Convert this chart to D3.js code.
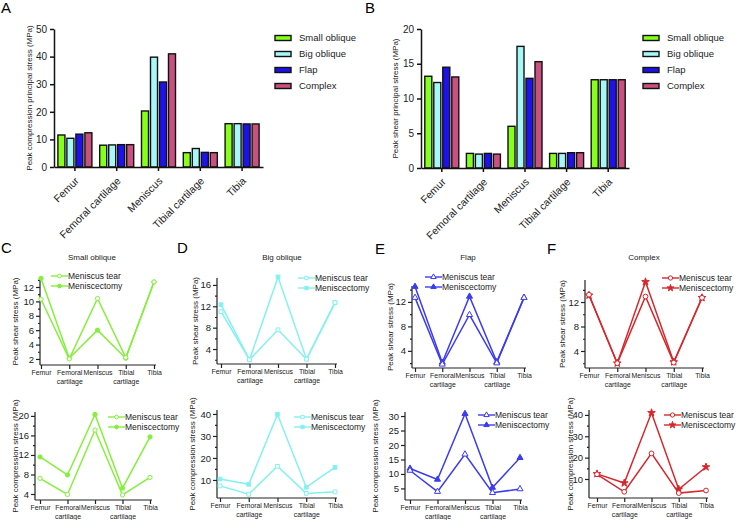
<!DOCTYPE html>
<html>
<head>
<meta charset="utf-8">
<script src="https://cdn.jsdelivr.net/npm/d3@7"></script>
<style>
  body { margin: 0; background: #fff; }
  svg { font-family: "Liberation Sans", Arial, sans-serif; }
</style>
</head>
<body>
<svg id="fig" width="738" height="520"></svg>
<script>
// categories
var organs = ["Femur", "Femoral cartilage", "Meniscus", "Tibial cartilage", "Tibia"];
var organLines = [["Femur"], ["Femoral", "cartilage"], ["Meniscus"], ["Tibial", "cartilage"], ["Tibia"]];
var tearTypes = ["Small oblique", "Big oblique", "Flap", "Complex"];
var barColors = ["#86ff1a", "#a6f7f7", "#1d12ec", "#c9517f"];

// A: peak compression principal stress (MPa)
var smallComp = [11.6, 7.9, 20.3, 5.2, 15.7];
var bigComp = [10.4, 8.0, 39.8, 6.7, 15.7];
var flapComp = [11.9, 8.1, 30.8, 5.3, 15.6];
var complexComp = [12.4, 8.1, 41.0, 5.2, 15.6];

// B: peak shear principal stress (MPa)
var smallShear = [13.2, 2.1, 6.0, 2.1, 12.7];
var bigShear = [12.3, 2.0, 17.5, 2.1, 12.7];
var flapShear = [14.5, 2.1, 12.9, 2.2, 12.7];
var complexShear = [13.1, 2.0, 15.3, 2.2, 12.7];

// C-F: meniscus tear series (meniscectomy series are the bar values above)
var smallTearShear = [10.3, 2.0, 10.4, 2.2, 12.7];
var smallTearComp = [7.2, 3.9, 17.1, 3.8, 7.4];
var bigTearShear = [11.0, 2.0, 7.6, 2.1, 12.7];
var bigTearComp = [7.3, 3.5, 16.2, 3.9, 4.6];
var flapTearShear = [12.7, 1.8, 9.9, 2.0, 12.7];
var flapTearComp = [11.2, 3.9, 16.8, 3.5, 4.8];
var complexTearShear = [13.2, 2.0, 12.9, 2.1, 12.7];
var complexTearComp = [12.2, 4.0, 22.0, 3.4, 4.6];

var svg = d3.select('#fig');

function letter(t, x, y) {
  svg.append('text').attr('x', x).attr('y', y)
    .style('font-size', '15px').text(t);
}

function drawBars(o) {
  var g = svg.append('g');
  var x = d3.scaleBand().domain(organs).range([o.left, o.right]);
  var xs = d3.scaleBand().domain(tearTypes).range([-17, 17]).paddingInner(0.22);
  var y = d3.scaleLinear().domain([0, o.max]).range([o.bottom, o.top]);

  o.series.forEach(function (vals, s) {
    g.selectAll(null).data(vals).enter().append('rect')
      .attr('x', function (d, i) { return x(organs[i]) + x.bandwidth() / 2 + xs(tearTypes[s]); })
      .attr('y', function (d) { return y(d); })
      .attr('width', xs.bandwidth())
      .attr('height', function (d) { return o.bottom - y(d); })
      .style('fill', barColors[s])
      .style('stroke', '#111')
      .style('stroke-width', 1.4);
  });

  var ya = g.append('g').attr('transform', 'translate(' + o.left + ',0)')
    .call(d3.axisLeft(y).tickValues(o.ticks).tickSize(4).tickSizeOuter(0));
  ya.selectAll('text').style('font-size', '10px').attr('fill', '#222');
  var xa = g.append('g').attr('transform', 'translate(0,' + o.bottom + ')')
    .call(d3.axisBottom(x).tickSize(4).tickSizeOuter(0));
  xa.selectAll('text')
    .attr('text-anchor', 'end')
    .attr('dy', '0.35em').attr('y', 0).attr('x', 0)
    .attr('transform', 'translate(2,12) rotate(-45)')
    .style('font-size', '10.5px').attr('fill', '#222');
  g.selectAll('.domain, .tick line').style('stroke', '#111').style('stroke-width', 1.5);

  g.append('text')
    .attr('transform', 'translate(' + o.labelX + ',' + (o.top + o.bottom) / 2 + ') rotate(-90)')
    .attr('text-anchor', 'middle').attr('dy', '0.35em')
    .style('font-size', '8px').attr('fill', '#222')
    .text(o.label);

  tearTypes.forEach(function (t, i) {
    var ly = 38 + i * 16;
    g.append('rect').attr('x', o.legX).attr('y', ly - 2.5).attr('width', 16).attr('height', 5)
      .style('fill', barColors[i]).style('stroke', '#111').style('stroke-width', 1.4);
    g.append('text').attr('x', o.legX + 24).attr('y', ly).attr('dy', '0.35em')
      .style('font-size', '9.5px').attr('fill', '#222').text(t);
  });
}

function marker(sel, type, size, color, filled) {
  sel.attr('d', d3.symbol().type(type).size(size))
    .style('fill', filled ? color : '#fff')
    .style('stroke', color)
    .style('stroke-width', 1);
}

function drawLines(o) {
  var g = svg.append('g');
  var x = d3.scalePoint().domain(organs).range([o.x0, o.x1]);
  var y = d3.scaleLinear().domain(o.domain).range([o.bottom, o.top]);

  // axes
  var ya = g.append('g').attr('transform', 'translate(' + o.axisX + ',0)')
    .call(d3.axisLeft(y).tickValues(o.ticks).tickSize(4).tickSizeOuter(0));
  ya.select('.domain').remove();
  ya.selectAll('text').style('font-size', '9.5px').attr('fill', '#222').attr('x', -6);
  if (o.minor) {
    var ym = g.append('g').attr('transform', 'translate(' + o.axisX + ',0)')
      .call(d3.axisLeft(y).tickValues(o.minor).tickSize(2).tickFormat(''));
    ym.select('.domain').remove();
  }
  g.append('line').attr('x1', o.axisX).attr('x2', o.axisX).attr('y1', o.top).attr('y2', o.bottom);
  g.append('line').attr('x1', o.axisX).attr('x2', o.x1 + 2).attr('y1', o.bottom).attr('y2', o.bottom);

  var xa = g.append('g').attr('transform', 'translate(0,' + o.bottom + ')')
    .call(d3.axisBottom(x).tickSize(4).tickSizeOuter(0).tickFormat(''));
  xa.select('.domain').remove();
  xa.selectAll('.tick').each(function (d, i) {
    var t = d3.select(this).append('text').attr('text-anchor', 'middle').attr('fill', '#222')
      .style('font-size', '6.9px');
    organLines[i].forEach(function (s, k) {
      t.append('tspan').attr('x', 0).attr('y', 10 + k * 8.5).text(s);
    });
  });
  g.selectAll('line, .tick line').style('stroke', '#222').style('stroke-width', 1.2);

  g.append('text')
    .attr('transform', 'translate(' + o.labelX + ',' + (o.top + o.bottom) / 2 + ') rotate(-90)')
    .attr('text-anchor', 'middle').attr('dy', '0.35em')
    .style('font-size', '8px').attr('fill', '#222')
    .text(o.label);

  // series
  var line = d3.line().x(function (d, i) { return x(organs[i]); }).y(function (d) { return y(d); });
  [[o.ectomy, true], [o.tear, false]].forEach(function (s) {
    g.append('path').datum(s[0]).attr('d', line)
      .style('fill', 'none').style('stroke', o.color).style('stroke-width', 1.5);
    g.selectAll(null).data(s[0]).enter().append('path')
      .attr('transform', function (d, i) { return 'translate(' + x(organs[i]) + ',' + y(d) + ')'; })
      .call(marker, s[1] ? o.symbolFilled : o.symbolOpen, o.size, o.color, s[1]);
  });

  // legend
  [['Meniscus tear', false], ['Meniscectomy', true]].forEach(function (l, i) {
    var ly = o.legY + i * 10;
    g.append('line').attr('x1', o.legX).attr('x2', o.legX + 17).attr('y1', ly).attr('y2', ly)
      .style('stroke', o.color).style('stroke-width', 1.4);
    g.append('path').attr('transform', 'translate(' + (o.legX + 8.5) + ',' + ly + ')')
      .call(marker, l[1] ? o.symbolFilled : o.symbolOpen, o.size * 0.8, o.color, l[1]);
    g.append('text').attr('x', o.legX + 17).attr('y', ly).attr('dy', '0.35em')
      .style('font-size', '8.5px').attr('fill', '#222').text(l[0]);
  });
}

// panel letters and titles
letter('A', 1, 13); letter('B', 365, 13);
letter('C', 1, 253); letter('D', 177, 253); letter('E', 375, 254); letter('F', 547, 254);
[['Small oblique', 92], ['Big oblique', 282], ['Flap', 468], ['Complex', 644]].forEach(function (t) {
  svg.append('text').attr('x', t[1]).attr('y', 260).attr('text-anchor', 'middle')
    .style('font-size', '8px').attr('fill', '#222').text(t[0]);
});

drawBars({left: 54, right: 263, top: 29, bottom: 167, max: 50, ticks: [0, 10, 20, 30, 40, 50],
  series: [smallComp, bigComp, flapComp, complexComp],
  label: 'Peak compression principal stress (MPa)', labelX: 29, legX: 275});
drawBars({left: 421, right: 629, top: 29, bottom: 168, max: 20, ticks: [0, 5, 10, 15, 20],
  series: [smallShear, bigShear, flapShear, complexShear],
  label: 'Peak shear principal stress (MPa)', labelX: 395, legX: 643});

drawLines({axisX: 40, x0: 41, x1: 154, top: 278, bottom: 365, domain: [1.16, 13.25],
  ticks: [2, 4, 6, 8, 10, 12], minor: [3, 5, 7, 9, 11, 13], tear: smallTearShear, ectomy: smallShear,
  color: '#84f03c', symbolOpen: d3.symbolCircle, symbolFilled: d3.symbolCircle, size: 14,
  label: 'Peak shear stress (MPa)', labelX: 15, legX: 51, legY: 276});
drawLines({axisX: 35, x0: 40, x1: 150, top: 412, bottom: 500, domain: [2.77, 20.8],
  ticks: [4, 8, 12, 16, 20], minor: [6, 10, 14, 18], tear: smallTearComp, ectomy: smallComp,
  color: '#84f03c', symbolOpen: d3.symbolCircle, symbolFilled: d3.symbolCircle, size: 14,
  label: 'Peak compression stress (MPa)', labelX: 15, legX: 108, legY: 417});

drawLines({axisX: 217, x0: 221, x1: 335, top: 278, bottom: 364, domain: [1.2, 17.3],
  ticks: [4, 8, 12, 16], minor: [2, 6, 10, 14], tear: bigTearShear, ectomy: bigShear,
  color: '#84f1f1', symbolOpen: d3.symbolSquare, symbolFilled: d3.symbolSquare, size: 14,
  label: 'Peak shear stress (MPa)', labelX: 195, legX: 298, legY: 278});
drawLines({axisX: 217, x0: 220, x1: 335, top: 410, bottom: 498, domain: [1.8, 41.8],
  ticks: [10, 20, 30, 40], minor: [15, 25, 35], tear: bigTearComp, ectomy: bigComp,
  color: '#84f1f1', symbolOpen: d3.symbolSquare, symbolFilled: d3.symbolSquare, size: 14,
  label: 'Peak compression stress (MPa)', labelX: 192, legX: 294, legY: 417});

drawLines({axisX: 412, x0: 415, x1: 524, top: 286, bottom: 368, domain: [1.2, 14.6],
  ticks: [4, 8, 12], minor: [2, 6, 10, 14], tear: flapTearShear, ectomy: flapShear,
  color: '#3b3bf2', symbolOpen: d3.symbolTriangle, symbolFilled: d3.symbolTriangle, size: 16,
  label: 'Peak shear stress (MPa)', labelX: 390, legX: 425, legY: 277});
drawLines({axisX: 405, x0: 410, x1: 520, top: 412, bottom: 500, domain: [1.0, 31.4],
  ticks: [5, 10, 15, 20, 25, 30], minor: null, tear: flapTearComp, ectomy: flapComp,
  color: '#3b3bf2', symbolOpen: d3.symbolTriangle, symbolFilled: d3.symbolTriangle, size: 16,
  label: 'Peak compression stress (MPa)', labelX: 375, legX: 478, legY: 415});

drawLines({axisX: 585, x0: 589, x1: 702, top: 280, bottom: 368, domain: [1.22, 15.6],
  ticks: [4, 8, 12], minor: [2, 6, 10, 14], tear: complexTearShear, ectomy: complexShear,
  color: '#d8262a', symbolOpen: d3.symbolCircle, symbolFilled: d3.symbolStar, size: 18,
  label: 'Peak shear stress (MPa)', labelX: 562, legX: 662, legY: 278});
drawLines({axisX: 589, x0: 597, x1: 706, top: 410, bottom: 498, domain: [1.1, 42.3],
  ticks: [10, 20, 30, 40], minor: [15, 25, 35], tear: complexTearComp, ectomy: complexComp,
  color: '#d8262a', symbolOpen: d3.symbolCircle, symbolFilled: d3.symbolStar, size: 18,
  label: 'Peak compression stress (MPa)', labelX: 570, legX: 664, legY: 415});
</script>
</body>
</html>
